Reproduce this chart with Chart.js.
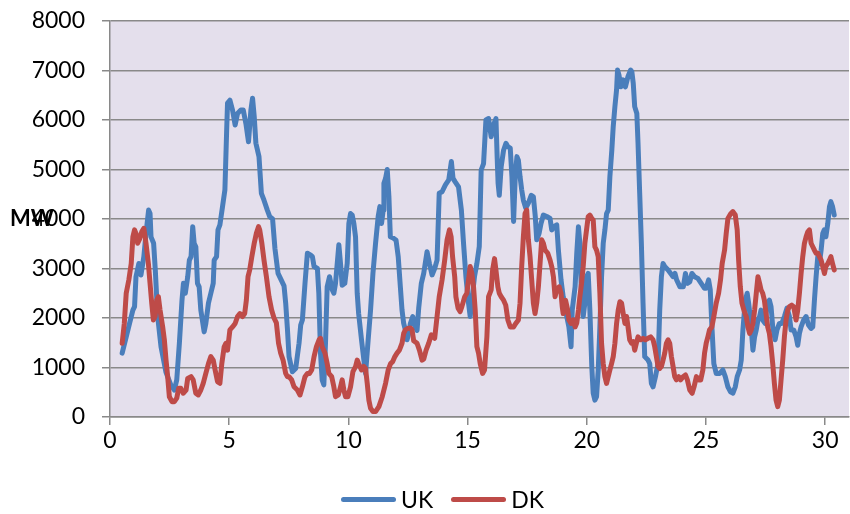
<!DOCTYPE html>
<html>
<head>
<meta charset="utf-8">
<script src="https://cdn.jsdelivr.net/npm/chart.js@4/dist/chart.umd.min.js"></script>
<style>
    html, body { margin: 0; padding: 0; background: #fff; }
    #wrap { position: relative; width: 850px; height: 514px; }
    #unit { position: absolute; left: 10px; top: 207px; font: bold 22px Lato, sans-serif; line-height: 22px; color: #000; }
    #legend { position: absolute; left: 341px; top: 488px; display: flex; align-items: center; font: 23px Lato, sans-serif; line-height: 23px; color: #000; }
    #legend .sw { width: 55px; height: 5px; border-radius: 3px; margin-right: 5px; }
    #legend .gap { width: 18px; }
</style>
</head>
<body>
<div id="wrap">
    <canvas id="windChart" width="850" height="514"></canvas>
    <div id="unit">MW</div>
    <div id="legend">
        <span class="sw" style="background:#4A7EBB"></span><span>UK</span>
        <span class="gap"></span>
        <span class="sw" style="background:#BE4B48"></span><span>DK</span>
    </div>
</div>
<script>
// ── Data (day of month, MW) ──
const ukX = [0.51,0.68,0.82,0.96,1.03,1.09,1.21,1.30,1.42,1.51,1.62,1.68,1.72,1.83,1.90,2.00,2.14,2.35,2.55,2.70,2.80,2.91,3.02,3.08,3.16,3.26,3.33,3.40,3.47,3.53,3.60,3.67,3.74,3.81,3.95,4.02,4.13,4.23,4.33,4.37,4.47,4.53,4.61,4.72,4.82,4.89,4.93,5.03,5.14,5.25,5.35,5.49,5.59,5.70,5.81,5.91,5.98,6.05,6.12,6.25,6.35,6.46,6.60,6.70,6.82,6.92,7.05,7.20,7.30,7.37,7.44,7.51,7.65,7.79,7.93,8.00,8.07,8.18,8.28,8.42,8.49,8.56,8.70,8.76,8.83,8.90,8.97,9.04,9.11,9.21,9.32,9.39,9.46,9.60,9.67,9.74,9.85,9.95,10.02,10.09,10.16,10.23,10.30,10.37,10.43,10.55,10.65,10.72,10.83,10.93,11.03,11.14,11.25,11.32,11.39,11.46,11.49,11.56,11.63,11.70,11.76,11.90,12.00,12.09,12.18,12.25,12.32,12.39,12.46,12.53,12.60,12.70,12.81,12.88,12.95,13.06,13.16,13.30,13.40,13.51,13.62,13.72,13.81,13.93,14.07,14.21,14.32,14.39,14.48,14.62,14.74,14.83,14.93,15.04,15.11,15.18,15.29,15.39,15.49,15.57,15.67,15.77,15.88,15.99,16.09,16.19,16.24,16.28,16.33,16.41,16.51,16.61,16.69,16.79,16.86,16.93,17.00,17.07,17.13,17.20,17.27,17.34,17.44,17.55,17.67,17.76,17.84,17.90,18.00,18.08,18.18,18.32,18.46,18.53,18.64,18.74,18.81,18.92,19.01,19.16,19.25,19.34,19.39,19.51,19.58,19.65,19.71,19.78,19.85,19.92,19.99,20.06,20.13,20.21,20.27,20.34,20.41,20.48,20.55,20.62,20.69,20.76,20.83,20.90,20.97,21.05,21.11,21.18,21.25,21.29,21.35,21.43,21.52,21.62,21.73,21.84,21.89,21.95,22.01,22.10,22.15,22.22,22.29,22.36,22.43,22.57,22.64,22.71,22.78,22.88,22.99,23.06,23.13,23.20,23.27,23.41,23.52,23.62,23.70,23.77,23.91,24.05,24.14,24.22,24.32,24.41,24.52,24.66,24.80,24.94,25.01,25.11,25.18,25.25,25.33,25.43,25.57,25.71,25.81,25.92,26.03,26.13,26.23,26.31,26.41,26.48,26.55,26.65,26.73,26.79,26.87,26.97,27.04,27.11,27.18,27.25,27.31,27.38,27.48,27.57,27.66,27.73,27.80,27.90,27.98,28.08,28.18,28.29,28.40,28.50,28.57,28.68,28.78,28.85,28.92,28.99,29.10,29.20,29.30,29.41,29.48,29.55,29.62,29.69,29.76,29.83,29.90,29.96,30.03,30.11,30.18,30.24,30.31,30.38];
const ukMW = [1290,1620,1890,2160,2230,2835,3100,2870,3240,3710,4180,4110,3640,3510,2970,2030,1420,900,650,545,750,1490,2360,2700,2500,2835,3170,3240,3845,3510,3440,2700,2630,2160,1720,1890,2300,2500,2700,3170,3240,3780,3880,4250,4590,5730,6340,6400,6200,5900,6130,6200,6200,5930,5560,6200,6440,6070,5530,5260,4520,4380,4180,4050,4000,3400,2900,2750,2650,2300,1800,1220,915,980,1490,1860,1960,2700,3310,3270,3240,3040,3000,2500,1290,750,650,1490,2630,2835,2570,2500,2700,3480,3100,2660,2700,3100,3910,4110,4080,3910,3640,2500,2090,1560,1150,880,1560,2160,2900,3510,4050,4250,3910,4180,4720,4820,5000,4450,3640,3610,3570,3240,2630,2160,1890,1760,1560,1690,1890,2030,1820,1750,2200,2700,2900,3340,3100,2870,3000,3170,4520,4550,4690,4790,5160,4820,4750,4650,4180,3510,2835,2300,2030,2360,2835,3100,3440,4990,5120,6000,6030,5660,5900,6030,5260,4720,4480,5060,5390,5530,5460,5430,4860,3950,4860,5260,5190,4860,4590,4380,4220,4320,4480,4450,4050,3580,3710,3910,4080,4050,4010,3780,3850,3880,3370,2770,2430,2030,1820,1420,2160,2630,3310,3845,3510,2430,2030,2300,2835,2900,2160,1020,480,340,410,950,1820,2835,3510,3780,4110,4180,4860,5390,5870,6270,6610,7010,6910,6670,6810,6670,6880,7010,6980,6740,6270,6130,5530,4520,3510,2300,1220,1150,1080,680,610,815,1080,2160,2835,3100,3040,2970,2900,2835,2900,2770,2630,2630,2900,2700,2730,2900,2835,2800,2700,2600,2600,2770,2570,1820,1080,880,880,950,815,610,510,480,610,815,950,1150,1760,2360,2500,2300,1960,1350,1620,1760,1960,2030,2160,1960,1890,2300,2360,2230,1820,1560,1760,1890,1890,2030,2200,2030,1760,1760,1620,1450,1690,1820,1960,2030,1860,1790,1820,2360,2835,3240,3100,3370,3710,3780,3640,3910,4250,4350,4250,4080];

const dkX = [0.51,0.60,0.68,0.79,0.89,0.96,1.03,1.09,1.16,1.23,1.33,1.42,1.51,1.61,1.68,1.75,1.82,1.89,1.96,2.03,2.10,2.21,2.28,2.35,2.42,2.49,2.60,2.70,2.80,2.88,2.97,3.07,3.19,3.26,3.40,3.49,3.60,3.70,3.81,3.91,4.02,4.13,4.23,4.33,4.41,4.51,4.61,4.69,4.79,4.86,4.93,5.03,5.14,5.25,5.35,5.45,5.56,5.65,5.72,5.79,5.86,5.95,6.05,6.14,6.23,6.28,6.37,6.46,6.56,6.67,6.78,6.88,6.98,7.07,7.16,7.26,7.37,7.44,7.51,7.62,7.72,7.86,7.97,8.07,8.18,8.28,8.37,8.46,8.56,8.66,8.77,8.83,8.90,9.02,9.11,9.18,9.30,9.39,9.46,9.58,9.67,9.74,9.81,9.88,9.98,10.09,10.19,10.30,10.37,10.43,10.55,10.65,10.72,10.79,10.86,10.93,11.03,11.14,11.28,11.42,11.56,11.67,11.77,11.86,11.95,12.04,12.14,12.25,12.32,12.39,12.50,12.60,12.67,12.74,12.88,12.98,13.09,13.16,13.26,13.37,13.48,13.62,13.72,13.81,13.93,14.04,14.14,14.24,14.31,14.37,14.46,14.51,14.60,14.69,14.76,14.88,14.97,15.04,15.11,15.18,15.25,15.32,15.39,15.46,15.53,15.63,15.71,15.81,15.88,15.99,16.05,16.13,16.19,16.27,16.33,16.41,16.51,16.60,16.69,16.79,16.93,17.02,17.13,17.20,17.27,17.34,17.41,17.48,17.55,17.62,17.69,17.76,17.83,17.90,17.97,18.04,18.11,18.18,18.25,18.36,18.46,18.53,18.60,18.67,18.74,18.84,18.92,18.97,19.01,19.11,19.20,19.25,19.34,19.43,19.51,19.58,19.65,19.71,19.78,19.85,19.92,19.99,20.06,20.13,20.21,20.27,20.34,20.41,20.48,20.55,20.62,20.69,20.76,20.83,20.90,20.97,21.04,21.11,21.18,21.25,21.32,21.39,21.46,21.53,21.60,21.67,21.73,21.80,21.88,21.95,22.01,22.08,22.15,22.26,22.36,22.46,22.57,22.68,22.78,22.85,22.92,22.99,23.06,23.13,23.20,23.27,23.34,23.41,23.48,23.55,23.62,23.69,23.76,23.86,23.94,24.04,24.14,24.22,24.32,24.42,24.50,24.60,24.69,24.78,24.87,24.94,25.01,25.08,25.15,25.25,25.33,25.43,25.53,25.61,25.68,25.78,25.85,25.92,26.03,26.13,26.23,26.31,26.37,26.44,26.51,26.59,26.69,26.76,26.83,26.90,26.97,27.04,27.11,27.18,27.25,27.31,27.38,27.45,27.52,27.59,27.66,27.73,27.80,27.87,27.94,28.01,28.08,28.15,28.22,28.29,28.36,28.43,28.50,28.60,28.68,28.78,28.85,28.92,28.99,29.06,29.13,29.20,29.27,29.34,29.41,29.48,29.55,29.62,29.69,29.76,29.83,29.90,29.97,30.03,30.11,30.18,30.24,30.31,30.38];
const dkMW = [1490,1890,2500,2770,3100,3640,3780,3710,3510,3580,3740,3810,3510,3100,2700,2300,1960,2030,2360,2430,2160,1820,1560,1150,815,410,310,310,380,580,580,480,545,780,815,750,480,445,545,680,880,1080,1220,1150,950,715,680,1080,1420,1490,1350,1760,1820,1890,2030,2090,2030,2090,2360,2835,2970,3240,3510,3710,3845,3780,3510,3170,2835,2430,2160,2000,1900,1490,1290,1150,880,815,815,750,610,545,445,610,815,880,880,950,1220,1420,1560,1590,1420,1290,1080,880,815,610,410,445,610,750,545,410,410,610,915,1020,1150,1080,950,1020,980,680,340,175,110,110,210,410,680,950,1080,1120,1220,1290,1350,1490,1690,1760,1790,1800,1760,1540,1490,1350,1150,1170,1350,1490,1660,1590,2030,2430,2770,3170,3580,3780,3640,3240,2835,2430,2200,2130,2230,2430,2500,2770,3040,2900,2630,2160,1420,1290,1080,880,950,1620,2430,2570,2970,3200,2970,2630,2500,2430,2360,2260,1960,1820,1820,1890,1960,2300,3040,3640,4110,4180,3580,3240,2770,2300,2090,2300,2630,3100,3580,3510,3370,3310,3170,3040,2835,2430,2570,2630,2500,2230,2090,2360,2160,1960,1890,1960,1820,1900,2160,2430,2700,3040,3510,3780,4050,4080,4010,3980,3440,3370,3240,2500,1490,1080,815,680,815,950,1080,1220,1490,1890,2160,2330,2300,2090,1890,2030,1820,1560,1490,1520,1350,1490,1620,1560,1590,1560,1590,1620,1560,1420,1220,1020,980,1020,1150,1290,1490,1560,1490,1220,1020,815,750,815,750,815,850,750,545,480,610,815,750,750,950,1290,1490,1620,1760,1820,2030,2300,2500,2770,3100,3370,3710,4010,4100,4150,4080,3780,3170,2630,2300,2160,2030,1820,1690,1760,1890,2160,2500,2835,2700,2570,2500,2360,2090,1820,1690,1420,1080,680,340,210,340,750,1150,1620,1960,2160,2230,2260,2230,1960,2160,2500,2900,3240,3510,3640,3740,3780,3510,3440,3370,3310,3310,3240,3170,3040,2900,3040,3100,3170,3240,3100,2970];

const yTicksMax = 8000;
const xTicksMax = 31;

const gridGrey = '#898989';
const tickFont = { family: 'Lato, sans-serif', size: 23 };

const plotBg = {
    id: 'plotBg',
    beforeDraw(chart) {
        const { ctx, chartArea: a } = chart;
        ctx.save();
        ctx.fillStyle = '#E4DFEC';
        ctx.fillRect(a.left, a.top, a.right - a.left, a.bottom - a.top);
        ctx.restore();
    }
};

const toPoints = (xs, ys) => xs.map((x, i) => ({ x: x, y: ys[i] }));

new Chart(document.getElementById('windChart'), {
    type: 'line',
    data: {
        datasets: [
            {
                label: 'UK',
                data: toPoints(ukX, ukMW),
                borderColor: '#4A7EBB',
                backgroundColor: '#4A7EBB',
                borderWidth: 5,
                pointRadius: 0,
                tension: 0,
                borderJoinStyle: 'round',
                borderCapStyle: 'round',
                order: 1,
            },
            {
                label: 'DK',
                data: toPoints(dkX, dkMW),
                borderColor: '#BE4B48',
                backgroundColor: '#BE4B48',
                borderWidth: 5,
                pointRadius: 0,
                tension: 0,
                borderJoinStyle: 'round',
                borderCapStyle: 'round',
                order: 0,
            }
        ]
    },
    options: {
        responsive: false,
        animation: false,
        layout: { padding: { top: 21, right: 1, bottom: 57, left: 0 } },
        plugins: { legend: { display: false }, tooltip: { enabled: false } },
        scales: {
            x: {
                type: 'linear', min: 0, max: xTicksMax,
                grid: { drawOnChartArea: false, color: gridGrey, lineWidth: 1.5, tickLength: 8 },
                border: { color: gridGrey, width: 1.5 },
                ticks: { stepSize: 5, includeBounds: false, maxRotation: 0, color: '#000', font: tickFont, padding: 2 },
                afterFit(s) { s.height = 40; s.paddingLeft = 0; s.paddingRight = 0; }
            },
            y: {
                min: 0, max: yTicksMax,
                grid: { color: gridGrey, lineWidth: 1.5, tickLength: 8 },
                border: { color: gridGrey, width: 1.5 },
                ticks: { stepSize: 1000, color: '#000', font: tickFont, padding: 17, callback: v => String(v) },
                afterFit(s) { s.width = 110; s.paddingTop = 0; s.paddingBottom = 0; }
            }
        }
    },
    plugins: [plotBg]
});
</script>
</body>
</html>
